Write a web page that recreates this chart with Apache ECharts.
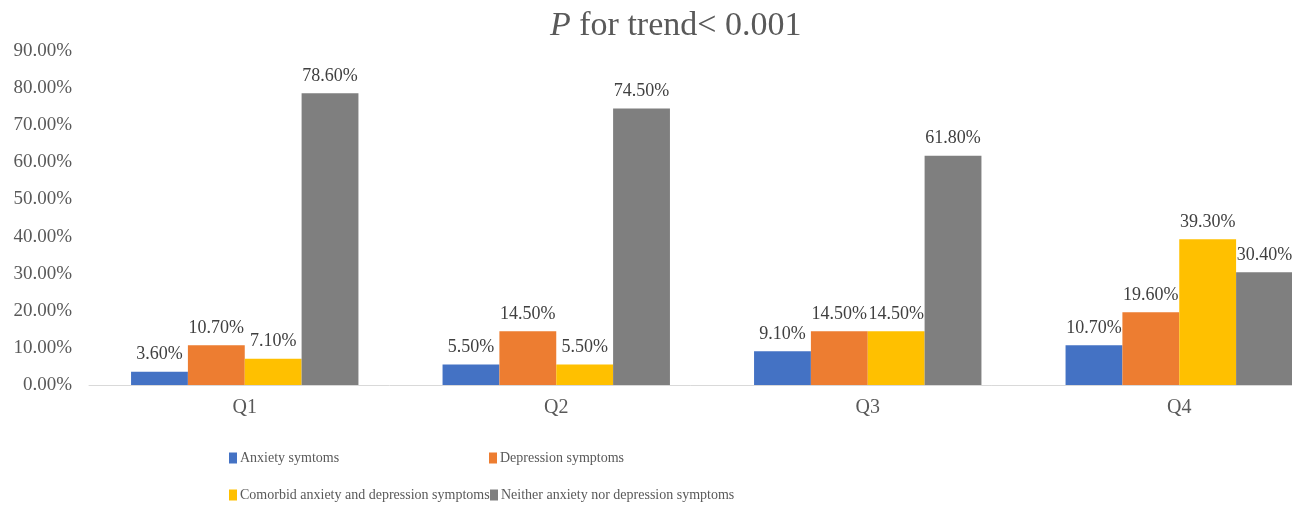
<!DOCTYPE html>
<html>
<head>
<meta charset="utf-8">
<script src="https://cdn.jsdelivr.net/npm/echarts@6/dist/echarts.min.js"></script>
<style>
  html, body { margin: 0; padding: 0; background: #fff; }
  #box1 { width: 1292px; height: 506px; }
</style>
</head>
<body>
<div id="box1"></div>
<script>
var quartiles = ['Q1', 'Q2', 'Q3', 'Q4'];
var seriesNames = ['Anxiety symtoms', 'Depression symptoms', 'Comorbid anxiety and depression symptoms', 'Neither anxiety nor depression symptoms'];
var anxietyList = [3.6, 5.5, 9.1, 10.7];
var depressionList = [10.7, 14.5, 14.5, 19.6];
var comorbidList = [7.1, 5.5, 14.5, 39.3];
var neitherList = [78.6, 74.5, 61.8, 30.4];
var colors = ['#4472C4', '#ED7D31', '#FFC000', '#7F7F7F'];

var chart = echarts.init(document.getElementById('box1'));
var font = '"Liberation Serif", "Times New Roman", serif';

function makeSeries(name, data, color) {
  return {
    name: name,
    type: 'bar',
    data: data,
    barGap: 0,
    barCategoryGap: '27%',
    itemStyle: { color: color },
    label: {
      show: true,
      position: 'top',
      distance: 8,
      fontFamily: font,
      fontSize: 18,
      color: '#404040',
      formatter: function(p) {
        return p.value.toFixed(2) + '%';
      }
    }
  };
}

// one legend per item so they sit in two rows / two columns
var legendPos = [[229, 451], [489, 451], [229, 488], [490, 488]];
var legends = seriesNames.map(function(n, i) {
  return {
    data: [n],
    left: legendPos[i][0],
    top: legendPos[i][1],
    icon: 'rect',
    itemWidth: 8,
    itemHeight: 11,
    itemGap: 0,
    padding: 0,
    textStyle: { fontFamily: font, fontSize: 14, color: '#595959', padding: [0, 0, 0, -2] }
  };
});

chart.setOption({
  animation: false,
  title: {
    text: '{i|P} for trend< 0.001',
    left: 550,
    top: 9,
    padding: 0,
    textStyle: {
      fontFamily: font,
      fontSize: 34,
      fontWeight: 'normal',
      color: '#595959',
      rich: {
        i: { fontFamily: font, fontSize: 34, fontStyle: 'italic', color: '#595959' }
      }
    }
  },
  legend: legends,
  grid: {
    left: 89,
    top: 51,
    right: -43,
    bottom: 121,
    containLabel: false,
    outerBoundsMode: 'none'
  },
  xAxis: {
    type: 'category',
    data: quartiles,
    axisTick: { show: false },
    axisLine: { lineStyle: { color: '#D9D9D9', width: 1 } },
    axisLabel: { fontFamily: font, fontSize: 20, color: '#595959', margin: 13 }
  },
  yAxis: {
    type: 'value',
    min: 0,
    max: 90,
    interval: 10,
    splitLine: { show: false },
    axisLine: { show: false },
    axisTick: { show: false },
    axisLabel: {
      fontFamily: font,
      fontSize: 19,
      color: '#595959',
      margin: 17,
      formatter: function(v) {
        return v.toFixed(2) + '%';
      }
    }
  },
  series: [
    makeSeries(seriesNames[0], anxietyList, colors[0]),
    makeSeries(seriesNames[1], depressionList, colors[1]),
    makeSeries(seriesNames[2], comorbidList, colors[2]),
    makeSeries(seriesNames[3], neitherList, colors[3])
  ]
});
</script>
</body>
</html>
